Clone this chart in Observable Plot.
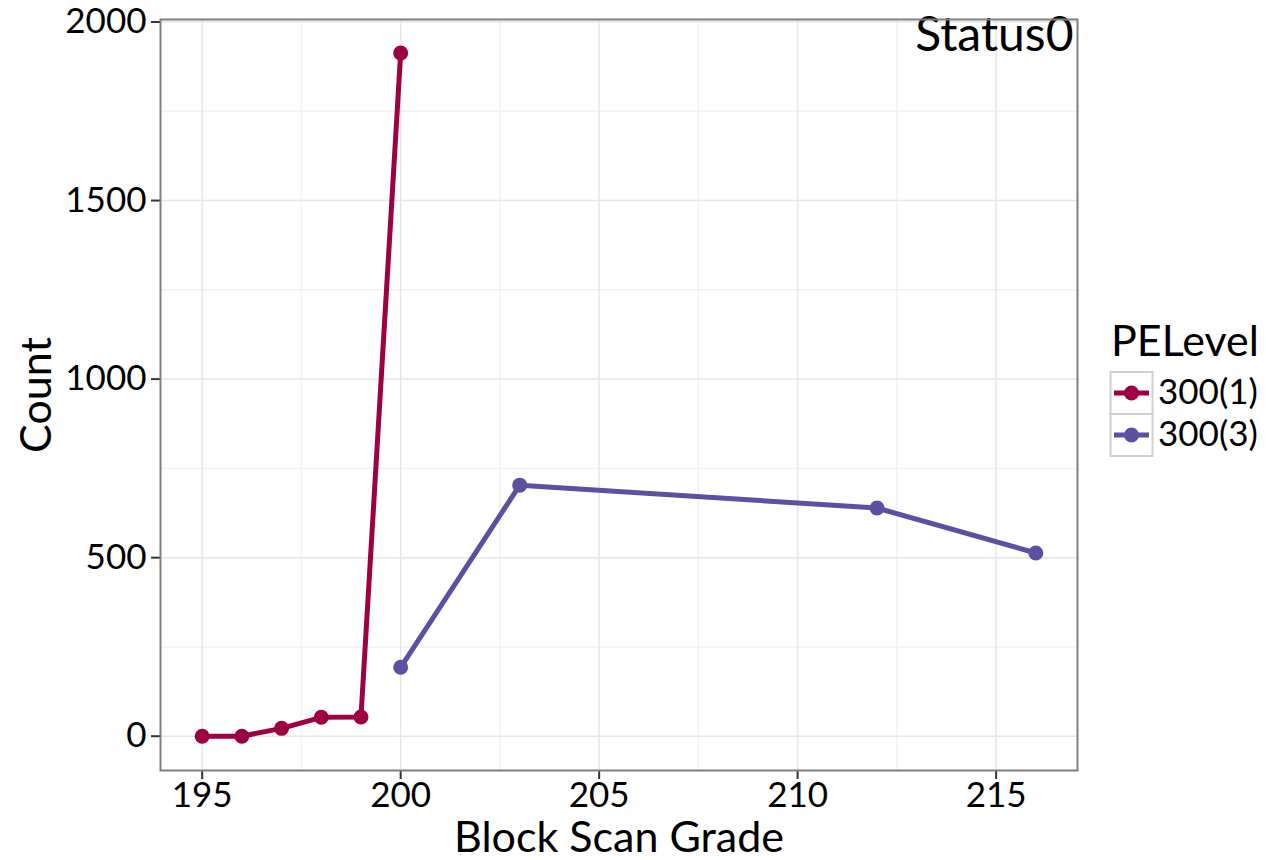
<!DOCTYPE html>
<html><head><meta charset="utf-8">
<script src="https://cdn.jsdelivr.net/npm/d3@7"></script>
<script src="https://cdn.jsdelivr.net/npm/@observablehq/plot@0.6"></script>
<style>
body{margin:0;background:#fff;font-family:Lato, "Open Sans", sans-serif;}
#wrap{position:relative;width:1266px;height:860px;overflow:hidden;}
#legend{position:absolute;left:1106px;top:306px;}
g[aria-label="x-axis label"] text, g[aria-label="y-axis label"] text{font-size:43px;}
</style></head><body><div id="wrap"><div id="chart"></div><div id="legend"></div></div>
<script>
const series = ["300(1)", "300(3)"];
const colors = ["#9E0142", "#5E4FA2"];
const grade1 = [195, 196, 197, 198, 199, 200];
const count1 = [0, 0, 22, 53, 54, 1913];
const grade3 = [200, 203, 212, 216];
const count3 = [193, 703, 639, 513];
const xTicks = [195, 200, 205, 210, 215];
const yTicks = [0, 500, 1000, 1500, 2000];
const xMinor = [197.5, 202.5, 207.5, 212.5];
const yMinor = [250, 750, 1250, 1750];
const panelLabel = "Status0";
const legendTitle = "PELevel";

const data = [
  ...grade1.map((g, i) => ({grade: g, count: count1[i], level: series[0]})),
  ...grade3.map((g, i) => ({grade: g, count: count3[i], level: series[1]}))
];

const chart = Plot.plot({
  width: 1266,
  height: 860,
  marginLeft: 160,
  marginRight: 189,
  marginTop: 19,
  marginBottom: 90,
  style: {fontSize: "35px", fontFamily: "Lato, 'Open Sans', sans-serif", color: "#000"},
  x: {domain: [193.95, 217.05]},
  y: {domain: [-96, 2007]},
  color: {domain: series, range: colors},
  marks: [
    Plot.gridX(xMinor, {stroke: "#f2f2f2", strokeOpacity: 1, strokeWidth: 1.5}),
    Plot.gridY(yMinor, {stroke: "#f2f2f2", strokeOpacity: 1, strokeWidth: 1.5}),
    Plot.gridX(xTicks, {stroke: "#e6e6e6", strokeOpacity: 1, strokeWidth: 1.5}),
    Plot.gridY(yTicks, {stroke: "#e6e6e6", strokeOpacity: 1, strokeWidth: 1.5}),
    Plot.axisX({ticks: xTicks, tickSize: 9, tickPadding: 3, tickFormat: d => String(d), label: "Block Scan Grade", labelAnchor: "center", labelArrow: "none", labelOffset: 81, strokeWidth: 2, stroke: "#333"}),
    Plot.axisY({ticks: yTicks, tickSize: 9, tickPadding: 5, tickFormat: d => String(d), label: "Count", labelAnchor: "center", labelArrow: "none", labelOffset: 140, strokeWidth: 2, stroke: "#333"}),
    Plot.line(data, {x: "grade", y: "count", stroke: "level", z: "level", strokeWidth: 5}),
    Plot.dot(data, {x: "grade", y: "count", fill: "level", r: 7.5}),
    Plot.text([panelLabel], {frameAnchor: "top-right", text: d => d, dx: -4, dy: -3, lineAnchor: "top", fontSize: 48, fill: "#000"}),
    Plot.frame({stroke: "#7f7f7f", strokeWidth: 2})
  ]
});
document.getElementById("chart").appendChild(chart);

// legend
const lg = d3.select("#legend").append("svg").attr("width", 160).attr("height", 162)
  .style("font-family", "Lato, 'Open Sans', sans-serif");
lg.append("text").attr("x", 5).attr("y", 50).attr("font-size", 43).text(legendTitle);
series.forEach((s, i) => {
  const y0 = 66 + i * 42;
  lg.append("rect").attr("x", 4.5).attr("y", y0).attr("width", 42).attr("height", 42)
    .attr("fill", "#fff").attr("stroke", "#d0d0d0").attr("stroke-width", 2);
  lg.append("line").attr("x1", 8).attr("x2", 43).attr("y1", y0 + 21).attr("y2", y0 + 21)
    .attr("stroke", colors[i]).attr("stroke-width", 5);
  lg.append("circle").attr("cx", 25.5).attr("cy", y0 + 21).attr("r", 7.5).attr("fill", colors[i]);
  lg.append("text").attr("x", 52).attr("y", y0 + 32).attr("font-size", 35).text(s);
});
</script></body></html>
